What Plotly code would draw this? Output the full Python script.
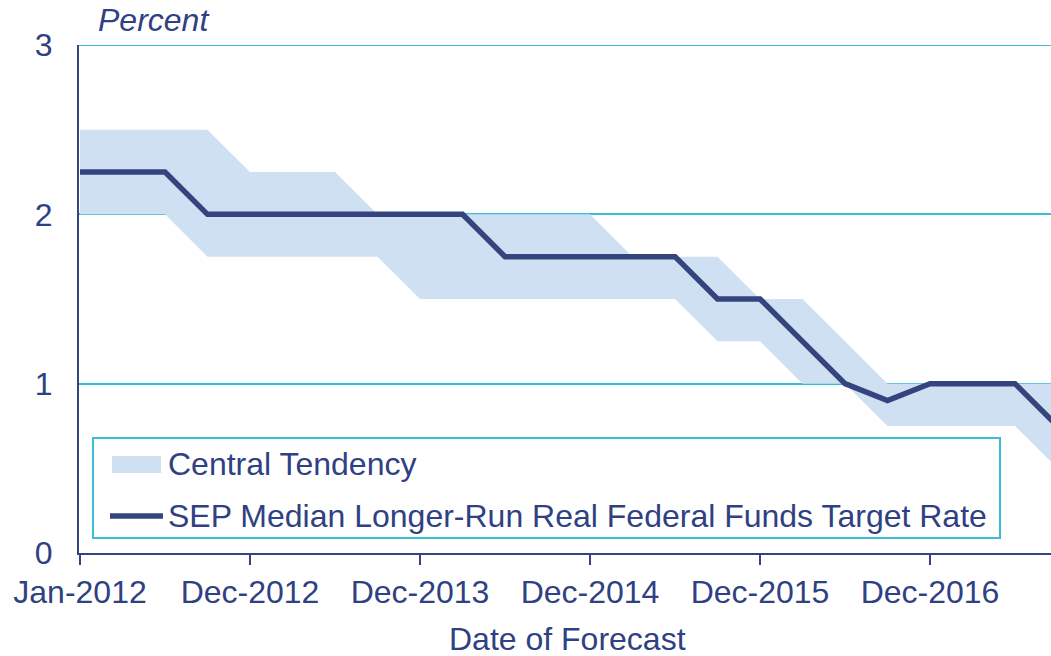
import plotly.graph_objects as go

dates = ["Jan-2012", "Apr-2012", "Jun-2012", "Sep-2012", "Dec-2012", "Mar-2013",
         "Jun-2013", "Sep-2013", "Dec-2013", "Mar-2014", "Jun-2014", "Sep-2014",
         "Dec-2014", "Mar-2015", "Jun-2015", "Sep-2015", "Dec-2015", "Mar-2016",
         "Jun-2016", "Sep-2016", "Dec-2016", "Mar-2017", "Jun-2017", "Sep-2017"]
median = [2.25, 2.25, 2.25, 2.0, 2.0, 2.0, 2.0, 2.0, 2.0, 2.0, 1.75, 1.75,
          1.75, 1.75, 1.75, 1.5, 1.5, 1.25, 1.0, 0.9, 1.0, 1.0, 1.0, 0.75]
ct_upper = [2.5, 2.5, 2.5, 2.5, 2.25, 2.25, 2.25, 2.0, 2.0, 2.0, 2.0, 2.0,
            2.0, 1.75, 1.75, 1.75, 1.5, 1.5, 1.25, 1.0, 1.0, 1.0, 1.0, 1.0]
ct_lower = [2.0, 2.0, 2.0, 1.75, 1.75, 1.75, 1.75, 1.75, 1.5, 1.5, 1.5, 1.5,
            1.5, 1.5, 1.5, 1.25, 1.25, 1.0, 1.0, 0.75, 0.75, 0.75, 0.75, 0.5]
tick_labels = ["Jan-2012", "Dec-2012", "Dec-2013", "Dec-2014", "Dec-2015", "Dec-2016"]
y_ticks = [0, 1, 2, 3]
band_name = "Central Tendency"
line_name = "SEP Median Longer-Run Real Federal Funds Target Rate"

idx = list(range(len(dates)))
tick_idx = [dates.index(t) for t in tick_labels]

NAVY = "#33447f"
TEXT = "#2f4182"
CYAN = "#3bbcd9"
BAND = "#cfe0f2"
FONT = "Liberation Sans, Arial, sans-serif"
FS = 32

W, H = 1051, 656
PL, PT, PB = 79, 45, 553          # plot area in screen pixels
pw, ph = W - PL, PB - PT


def px(x):
    return (x - PL) / pw


def py(y):
    return (PB - y) / ph


fig = go.Figure()
fig.add_trace(go.Scatter(
    x=idx + idx[::-1], y=ct_upper + ct_lower[::-1],
    fill="toself", fillcolor=BAND, mode="lines",
    line=dict(width=0, color=BAND), name=band_name,
    showlegend=False, hoverinfo="skip"))
fig.add_trace(go.Scatter(
    x=idx, y=median, mode="lines",
    line=dict(width=5.5, color=NAVY), name=line_name, showlegend=False))

px_per = 42.5
x0 = -1 / px_per
x1 = x0 + pw / px_per

shapes = [
    # top gridline (at the range edge)
    dict(type="line", xref="paper", yref="y", x0=0, x1=1, y0=y_ticks[-1], y1=y_ticks[-1],
         line=dict(color=CYAN, width=2), layer="below"),
    # legend frame
    dict(type="rect", xref="paper", yref="paper",
         x0=px(93), x1=px(1000), y0=py(538), y1=py(438),
         line=dict(color=CYAN, width=2), fillcolor="white", layer="above"),
    # band swatch
    dict(type="rect", xref="paper", yref="paper",
         x0=px(112), x1=px(161), y0=py(473), y1=py(456),
         line=dict(width=0), fillcolor=BAND, layer="above"),
    # line swatch
    dict(type="line", xref="paper", yref="paper",
         x0=px(110), x1=px(163), y0=py(516), y1=py(516),
         line=dict(color=NAVY, width=5.5), layer="above"),
]

annotations = [
    dict(text="<i>Percent</i>", xref="paper", yref="paper",
         x=px(96), y=py(20), xanchor="left", yanchor="middle", showarrow=False,
         font=dict(family=FONT, size=FS, color=TEXT)),
    dict(text="Date of Forecast", xref="paper", yref="paper",
         x=px(567), y=py(639), xanchor="center", yanchor="middle", showarrow=False,
         font=dict(family=FONT, size=FS, color=TEXT)),
    dict(text=band_name, xref="paper", yref="paper",
         x=px(166), y=py(464), xanchor="left", yanchor="middle", showarrow=False,
         font=dict(family=FONT, size=FS, color=TEXT)),
    dict(text=line_name, xref="paper", yref="paper",
         x=px(166), y=py(516), xanchor="left", yanchor="middle", showarrow=False,
         font=dict(family=FONT, size=FS, color=TEXT)),
]

fig.update_layout(
    width=W, height=H,
    margin=dict(l=PL, r=0, t=PT, b=H - PB, autoexpand=False),
    plot_bgcolor="white", paper_bgcolor="white",
    font=dict(family=FONT, size=FS, color=TEXT),
    showlegend=False,
    xaxis=dict(
        range=[x0, x1], tickmode="array", tickvals=tick_idx, ticktext=tick_labels,
        showgrid=False, zeroline=False, showline=True, linecolor=NAVY, linewidth=2,
        ticks="outside", ticklen=10, tickwidth=1.5, tickcolor=NAVY,
        tickfont=dict(family=FONT, size=FS, color=TEXT), automargin=False,
    ),
    yaxis=dict(
        range=[0, 3], tickmode="array", tickvals=y_ticks,
        showgrid=True, gridcolor=CYAN, gridwidth=2, zeroline=False,
        showline=True, linecolor=NAVY, linewidth=2, ticks="",
        ticklabelstandoff=18,
        tickfont=dict(family=FONT, size=FS, color=TEXT), automargin=False,
    ),
    shapes=shapes,
    annotations=annotations,
)

fig.write_html(
    "out.html",
    config={"displayModeBar": False, "staticPlot": True},
    post_script="document.body.style.margin='0';"
                "document.body.style.overflow='hidden';"
                "document.documentElement.style.overflow='hidden';",
)
